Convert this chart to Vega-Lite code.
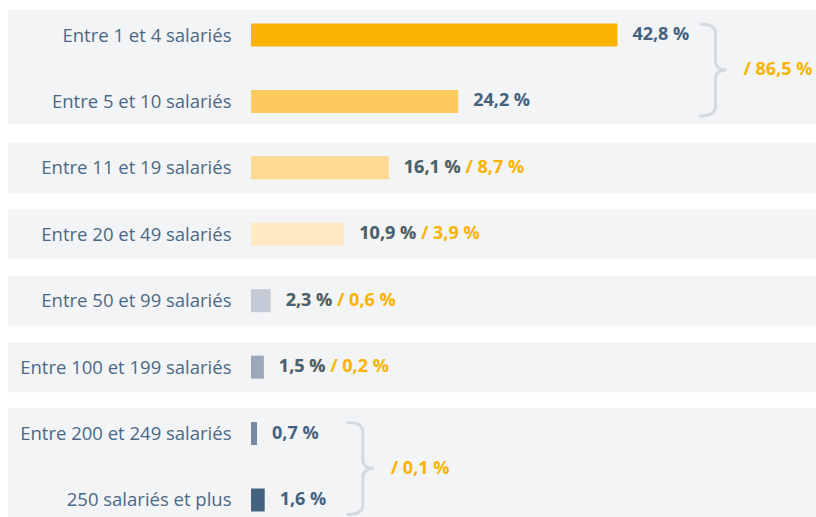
{
  "$schema": "https://vega.github.io/schema/vega-lite/v6.json",
  "width": 565,
  "height": 499,
  "autosize": {"type": "none"},
  "padding": {"left": 251, "top": 18, "right": 0, "bottom": 0},
  "background": "white",
  "config": {"view": {"stroke": null}, "font": "Open Sans"},
  "data": {
    "values": [
      {"cat": "Entre 1 et 4 salariés", "pct": 42.8, "share": 86.5, "grp": "a", "lead": true},
      {"cat": "Entre 5 et 10 salariés", "pct": 24.2, "share": 86.5, "grp": "a", "lead": false},
      {"cat": "Entre 11 et 19 salariés", "pct": 16.1, "share": 8.7, "grp": "b", "lead": false},
      {"cat": "Entre 20 et 49 salariés", "pct": 10.9, "share": 3.9, "grp": "c", "lead": false},
      {"cat": "Entre 50 et 99 salariés", "pct": 2.3, "share": 0.6, "grp": "d", "lead": false},
      {"cat": "Entre 100 et 199 salariés", "pct": 1.5, "share": 0.2, "grp": "e", "lead": false},
      {"cat": "Entre 200 et 249 salariés", "pct": 0.7, "share": 0.1, "grp": "f", "lead": true},
      {"cat": "250 salariés et plus", "pct": 1.6, "share": 0.1, "grp": "f", "lead": false}
    ]
  },
  "transform": [
    {"calculate": "replace(format(datum.pct, '.1f'), '.', ',') + '\u00a0%'", "as": "lab"},
    {"calculate": "'/ ' + replace(format(datum.share, '.1f'), '.', ',') + '\u00a0%'", "as": "shareLab"},
    {"joinaggregate": [{"op": "count", "as": "n"}, {"op": "max", "field": "pct", "as": "maxPct"}], "groupby": ["grp"]}
  ],
  "encoding": {
    "y": {
      "field": "cat",
      "type": "nominal",
      "scale": {
        "type": "point",
        "padding": 0.256,
        "domain": ["Entre 1 et 4 salariés", "Entre 5 et 10 salariés", "Entre 11 et 19 salariés", "Entre 20 et 49 salariés", "Entre 50 et 99 salariés", "Entre 100 et 199 salariés", "Entre 200 et 249 salariés", "250 salariés et plus"]
      },
      "axis": {
        "title": null,
        "domain": false,
        "ticks": false,
        "grid": false,
        "zindex": 2,
        "labelPadding": 20,
        "labelLimit": 0,
        "labelFontSize": 18.5,
        "labelFont": "Open Sans",
        "labelColor": "#4b6987"
      }
    }
  },
  "layer": [
    {
      "transform": [{"filter": "datum.n == 1"}],
      "mark": {"type": "bar", "color": "#f3f4f6", "height": 50, "x": -243, "x2": 565}
    },
    {
      "transform": [{"filter": "datum.lead"}],
      "mark": {"type": "bar", "color": "#f3f4f6", "height": 115, "yOffset": 32, "x": -243, "x2": 565}
    },
    {
      "mark": {"type": "bar", "height": 23},
      "encoding": {
        "x": {"field": "pct", "type": "quantitative", "scale": {"domain": [0, 66], "nice": false, "zero": false}, "axis": null},
        "color": {
          "field": "cat",
          "type": "nominal",
          "scale": {
            "domain": ["Entre 1 et 4 salariés", "Entre 5 et 10 salariés", "Entre 11 et 19 salariés", "Entre 20 et 49 salariés", "Entre 50 et 99 salariés", "Entre 100 et 199 salariés", "Entre 200 et 249 salariés", "250 salariés et plus"],
            "range": ["#f9b300", "#fdca5f", "#fed991", "#fee9c3", "#c3cad6", "#9aa8ba", "#7489a3", "#44637f"]
          },
          "legend": null
        }
      }
    },
    {
      "transform": [
        {"filter": "datum.n == 1"},
        {"calculate": "datum.lab + ' ' + datum.shareLab", "as": "full"}
      ],
      "mark": {"type": "text", "align": "left", "baseline": "middle", "dx": 15, "fontSize": 18, "fontWeight": "bold", "color": "#f9b300"},
      "encoding": {
        "x": {"field": "pct", "type": "quantitative"},
        "text": {"field": "full"}
      }
    },
    {
      "mark": {"type": "text", "align": "left", "baseline": "middle", "dx": 15, "fontSize": 18, "fontWeight": "bold", "color": "#44627e"},
      "encoding": {
        "x": {"field": "pct", "type": "quantitative"},
        "text": {"field": "lab"}
      }
    },
    {
      "transform": [{"filter": "datum.lead"}],
      "mark": {
        "type": "point",
        "shape": "M0,-1 C0.22,-1 0.35,-0.95 0.35,-0.8 L0.35,-0.2 C0.35,-0.07 0.42,0 0.59,0 C0.42,0 0.35,0.07 0.35,0.2 L0.35,0.8 C0.35,0.95 0.22,1 0,1",
        "size": 8464,
        "filled": false,
        "color": "#d5dae1",
        "strokeWidth": 3,
        "opacity": 1,
        "xOffset": 82,
        "yOffset": 35
      },
      "encoding": {
        "x": {"field": "maxPct", "type": "quantitative"}
      }
    },
    {
      "transform": [{"filter": "datum.lead"}],
      "mark": {"type": "text", "align": "left", "baseline": "middle", "dx": 126, "dy": 35, "fontSize": 18, "fontWeight": "bold", "color": "#f9b300"},
      "encoding": {
        "x": {"field": "maxPct", "type": "quantitative"},
        "text": {"field": "shareLab"}
      }
    }
  ]
}
